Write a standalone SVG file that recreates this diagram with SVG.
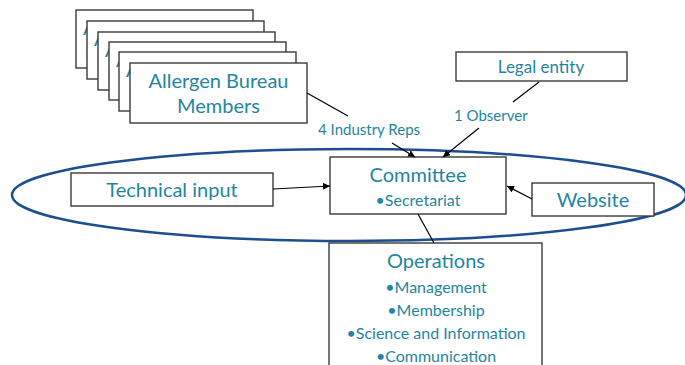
<svg xmlns="http://www.w3.org/2000/svg" width="685" height="365" viewBox="0 0 685 365">
<defs>
<marker id="ah" viewBox="0 0 10 10" refX="10" refY="5" markerWidth="7" markerHeight="7" markerUnits="userSpaceOnUse" orient="auto">
<path d="M0,0 L10,5 L0,10 z" fill="#000"/>
</marker>
</defs>
<style>
.box{fill:#fff;stroke:#3a3a3a;stroke-width:1.4}
.t{font-family:Lato,"Open Sans","Liberation Sans",sans-serif;fill:#1f85a0}
.big{font-size:20px}
.med{font-size:16px}
.sm{font-size:15px}
.c{text-anchor:middle}
.ln{stroke:#000;stroke-width:1.2;fill:none}
.ar{stroke:#000;stroke-width:1.2;fill:none;marker-end:url(#ah)}
</style>
<rect width="685" height="365" fill="#fff"/>
<ellipse cx="349" cy="195" rx="337" ry="46" fill="none" stroke="#1c4f8f" stroke-width="2.5"/>
<g id="members-stack">
<g id="member-card-1"><rect class="box" x="76" y="10" width="177" height="58"/><text class="t big" x="83" y="35">Allergen Bureau</text><text class="t big" x="85" y="60">Members</text></g>
<g id="member-card-2"><rect class="box" x="87" y="21" width="177" height="58"/><text class="t big" x="94" y="46">Allergen Bureau</text><text class="t big" x="96" y="71">Members</text></g>
<g id="member-card-3"><rect class="box" x="98" y="32" width="177" height="58"/><text class="t big" x="105" y="57">Allergen Bureau</text><text class="t big" x="107" y="82">Members</text></g>
<g id="member-card-4"><rect class="box" x="109" y="42" width="177" height="58"/><text class="t big" x="116" y="67">Allergen Bureau</text><text class="t big" x="118" y="92">Members</text></g>
<g id="member-card-5"><rect class="box" x="119" y="52" width="177" height="59"/><text class="t big" x="126" y="77">Allergen Bureau</text><text class="t big" x="128" y="102">Members</text></g>
<g id="member-card-front"><rect class="box" x="130" y="63" width="177" height="60"/><text class="t big c" x="218.5" y="88">Allergen Bureau</text><text class="t big c" x="218.5" y="113">Members</text></g>
</g>
<g id="legal-entity"><rect class="box" x="456" y="52" width="171" height="29"/><text class="t c" style="font-size:17px" x="541" y="73">Legal entity</text></g>
<g id="committee"><rect class="box" x="330" y="157" width="176" height="57"/><text class="t big c" x="418" y="182">Committee</text><text class="t med c" x="418" y="206">•Secretariat</text></g>
<g id="technical-input"><rect class="box" x="71" y="173" width="202" height="33"/><text class="t big c" x="172" y="197">Technical input</text></g>
<g id="website"><rect class="box" x="532" y="183" width="122" height="33"/><text class="t big c" x="593" y="207">Website</text></g>
<g id="operations"><rect class="box" x="329" y="243" width="213" height="130"/>
<text class="t big c" x="436" y="268">Operations</text>
<text class="t med c" x="436" y="293">•Management</text>
<text class="t med c" x="436" y="316">•Membership</text>
<text class="t med c" x="436" y="339">•Science and Information</text>
<text class="t med c" x="436" y="362">•Communication</text>
</g>
<g id="labels">
<text class="t sm" x="318" y="135">4 Industry Reps</text>
<text class="t sm" x="454" y="121">1 Observer</text>
</g>
<g id="connectors">
<line class="ln" x1="307" y1="93" x2="348" y2="116"/>
<line class="ar" x1="392" y1="143" x2="415" y2="157"/>
<line class="ln" x1="539" y1="82" x2="513" y2="102"/>
<line class="ar" x1="479" y1="128" x2="443" y2="157"/>
<line class="ar" x1="273" y1="189" x2="330" y2="186"/>
<line class="ar" x1="532" y1="199" x2="507" y2="186"/>
<line class="ln" x1="418" y1="214" x2="434" y2="243"/>
</g>
</svg>
